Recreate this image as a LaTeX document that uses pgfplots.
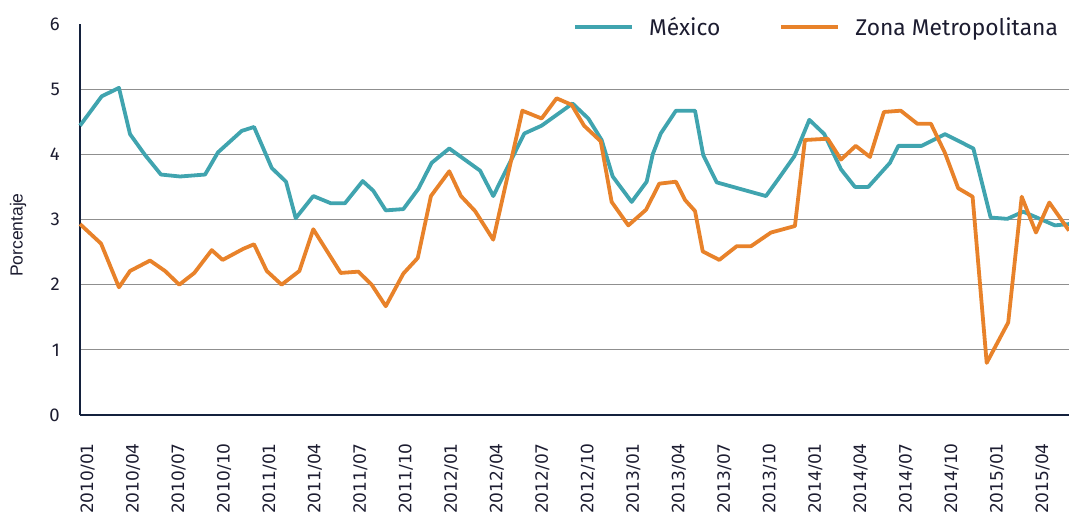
\documentclass[border=0pt]{standalone}
\usepackage{fontspec}
\setmainfont{Fira Sans}
\newfontfamily\dejavu{DejaVu Sans}
\newfontfamily\libsans{Liberation Sans}
\usepackage{pgfplots}
\usepackage{pgfplotstable}
\pgfplotsset{compat=1.18}
\definecolor{teal1}{HTML}{40A4AF}
\definecolor{orange1}{HTML}{E8822A}
\definecolor{navy}{HTML}{14213D}
\definecolor{gridc}{HTML}{8F8F8F}
\definecolor{txt}{HTML}{1C1C30}

\pgfplotstableread{
m v
0.00 4.44
1.43 4.89
2.57 5.02
3.30 4.31
4.29 3.99
5.34 3.69
6.60 3.66
8.25 3.69
9.10 4.03
10.67 4.36
11.48 4.42
12.65 3.79
13.59 3.58
14.23 3.02
15.39 3.36
16.54 3.25
17.48 3.25
18.65 3.59
19.35 3.44
20.17 3.14
21.33 3.16
22.32 3.47
23.20 3.87
24.36 4.09
26.39 3.75
27.26 3.36
29.31 4.32
30.45 4.44
32.49 4.78
33.53 4.55
34.41 4.22
35.14 3.66
36.39 3.27
37.38 3.58
37.78 4.00
38.31 4.32
39.31 4.67
40.57 4.67
41.11 3.99
42.00 3.57
43.54 3.47
45.25 3.36
46.06 3.62
47.12 3.97
48.11 4.53
49.10 4.31
50.20 3.77
51.12 3.50
52.00 3.50
53.43 3.87
53.98 4.13
55.52 4.13
57.06 4.31
58.93 4.09
60.07 3.03
61.17 3.01
62.22 3.12
64.31 2.91
65.24 2.93
}\mexico

\pgfplotstableread{
m v
0.00 2.93
1.39 2.63
2.57 1.96
3.30 2.21
4.62 2.37
5.61 2.21
6.55 2.00
7.54 2.18
8.69 2.53
9.41 2.38
10.77 2.55
11.48 2.62
12.32 2.21
13.30 2.00
14.47 2.21
15.39 2.85
17.20 2.18
18.36 2.20
19.24 2.00
20.17 1.67
21.33 2.17
22.28 2.41
23.15 3.36
24.36 3.74
25.13 3.36
26.06 3.13
27.26 2.69
29.18 4.67
30.45 4.55
31.44 4.86
32.43 4.76
33.25 4.44
34.35 4.20
35.07 3.27
36.17 2.91
37.34 3.15
38.21 3.55
39.31 3.58
39.91 3.30
40.57 3.13
41.08 2.51
42.17 2.38
43.32 2.59
44.26 2.59
45.58 2.80
47.16 2.90
47.82 4.22
49.32 4.24
50.20 3.92
51.17 4.13
52.11 3.96
53.03 4.65
54.14 4.67
55.23 4.47
56.13 4.47
57.06 4.02
57.93 3.48
58.88 3.35
59.81 0.80
61.23 1.42
62.12 3.35
63.06 2.80
63.94 3.26
65.24 2.83
}\zona

\begin{document}
\begin{tikzpicture}
\useasboundingbox (0,0) rectangle (1069bp,-519bp);
\begin{axis}[
  at={(80bp,-415bp)}, anchor=south west,
  scale only axis, width=989bp, height=391bp,
  xmin=0, xmax=65.24, ymin=0, ymax=6,
  axis x line=bottom, axis y line=left,
  axis line style={-, navy, line width=2bp},
  ytick={0,1,2,3,4,5}, extra y ticks={6}, extra y tick style={ymajorgrids=false},
  ymajorgrids, grid style={gridc, line width=1.2bp},
  major tick length=0pt,
  /pgf/number format/assume math mode=true,
  yticklabel style={font=\fontsize{18.5bp}{18.5bp}\selectfont, text=txt, anchor=east, inner sep=0pt},
  yticklabel shift=20bp,
  xtick={0.5,3.5,6.5,9.5,12.5,15.5,18.5,21.5,24.5,27.5,30.5,33.5,36.5,39.5,42.5,45.5,48.5,51.5,54.5,57.5,60.5,63.5},
  xticklabels={2010/01,2010/04,2010/07,2010/10,2011/01,2011/04,2011/07,2011/10,2012/01,2012/04,2012/07,2012/10,2013/01,2013/04,2013/07,2013/10,2014/01,2014/04,2014/07,2014/10,2015/01,2015/04},
  xticklabel style={font=\dejavu\fontsize{17bp}{17bp}\selectfont, text=txt, rotate=90, anchor=east, inner sep=0pt},
  xticklabel shift=28bp,
  ylabel={Porcentaje},
  ylabel style={at={(rel axis cs:-0.0627,0.46)}, anchor=center, font=\libsans\fontsize{17.5bp}{17.5bp}\selectfont, text=txt},
  legend style={draw=none, fill=none, at={(rel axis cs:0.4985,0.992)}, anchor=west,
    legend columns=2, inner sep=0pt, font=\fontsize{22.8bp}{22.8bp}\selectfont, text=txt,
    /tikz/every odd column/.append style={column sep=13bp},
    /tikz/every even column/.append style={column sep=57bp}},
  legend image code/.code={\draw[#1, line width=4bp] (0bp,0bp) -- (57bp,0bp);},
  clip=false,
]
\addplot[teal1, line width=3.8bp, line join=round] table[x=m, y=v] {\mexico};
\addlegendentry{México}
\addplot[orange1, line width=3.8bp, line join=round] table[x=m, y=v] {\zona};
\addlegendentry{Zona Metropolitana}
\end{axis}
\end{tikzpicture}
\end{document}
